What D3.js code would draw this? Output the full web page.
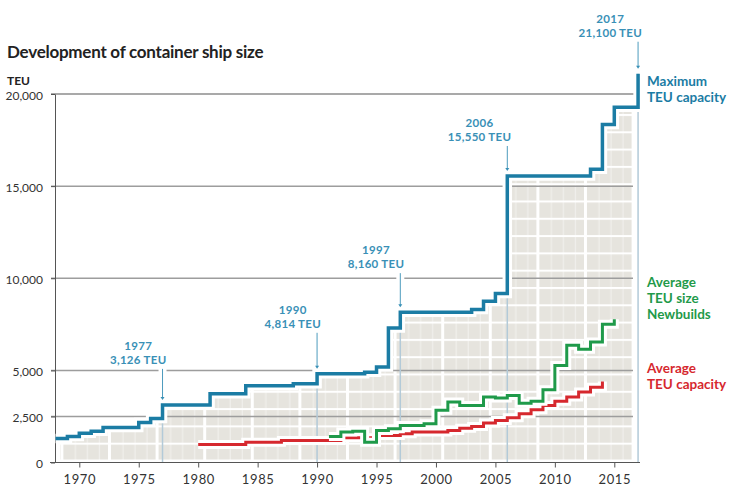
<!DOCTYPE html>
<html><head><meta charset="utf-8">
<script src="https://cdn.jsdelivr.net/npm/d3@7"></script>
<style>
body{margin:0;background:#fff;}
svg{display:block;font-family:Lato,"Open Sans",sans-serif;}
</style>
</head><body>
<svg id="c" width="736" height="497"></svg>
<script>
// ---------- data ----------
const maxYears = [1968,1969,1970,1971,1972,1975,1976,1977,1981,1984,1988,1990,1994,1995,1996,1997,2003,2004,2005,2006,2013,2014,2015,2017];
const maxTEU   = [1300,1410,1590,1700,1900,2170,2390,3126,3730,4170,4280,4814,4900,5180,7300,8160,8300,8750,9170,15550,15920,18350,19280,21100];

const newYears = [1991,1992,1993,1994,1995,1996,1997,1999,2000,2001,2002,2004,2005,2006,2007,2008,2009,2010,2011,2012,2013,2014,2015];
const newTEU   = [1410,1650,1700,1100,1740,1830,2010,2100,2830,3280,3100,3550,3500,3630,3220,3330,3950,5270,6360,6140,6540,7500,7770];

const avgYears = [1980,1984,1987,1992,1995,1997,1998,2001,2002,2003,2004,2005,2006,2007,2008,2009,2010,2011,2012,2013,2014];
const avgTEU   = [980,1100,1200,1340,1470,1560,1650,1740,1860,1960,2140,2280,2430,2650,2860,3100,3320,3550,3820,4080,4400];

const yTicks = [0,2500,5000,10000,15000,20000];
const xTicks = [1970,1975,1980,1985,1990,1995,2000,2005,2010,2015];

const annYears  = [1977,1990,1997,2006,2017];
const annLabels = ["3,126 TEU","4,814 TEU","8,160 TEU","15,550 TEU","21,100 TEU"];

const seriesNames = [["Maximum","TEU capacity"],["Average","TEU size","Newbuilds"],["Average","TEU capacity"]];

// ---------- layout / style ----------
const BLUE="#1b7ca4", ANN="#3990b6", GREEN="#1f9a4a", RED="#d6282e", CELL="#e6e4de";
const annGap = [41,46,44,35,37];   // distance from step to label baseline
const svg = d3.select("#c");
const x = d3.scaleLinear().domain([1970,2015]).range([79.3,614.3]);
const y = d3.scaleLinear().domain([0,20000]).range([462.5,94]);

// title
svg.append("text").attr("x",7).attr("y",58).attr("font-size",17).attr("font-weight",700)
  .attr("fill","#222").attr("letter-spacing",-0.25).text("Development of container ship size");
svg.append("text").attr("x",7).attr("y",84.5).attr("font-size",12).attr("font-weight",700)
  .attr("fill","#222").text("TEU");

// pattern
const defs = svg.append("defs");
const PW = 47.6, PH = 17.3;
const pat = defs.append("pattern").attr("id","cont").attr("patternUnits","userSpaceOnUse")
  .attr("x",108).attr("y",460).attr("width",PW).attr("height",PH);
pat.append("rect").attr("width",PW).attr("height",PH).attr("fill",CELL);
pat.append("rect").attr("x",0).attr("y",0).attr("width",3).attr("height",PH).attr("fill","#fff");
[14.5,26.5,38.5].forEach(o=>pat.append("rect").attr("x",o).attr("y",0).attr("width",1).attr("height",PH).attr("fill","#fff").attr("opacity",0.5));
pat.append("rect").attr("x",0).attr("y",0).attr("width",PW).attr("height",2).attr("fill","#fff");

defs.append("clipPath").attr("id","clipA").append("rect")
  .attr("x",60).attr("y",0).attr("width",634-60).attr("height",497);

const maxPts = maxYears.map((d,i)=>[d,maxTEU[i]]);
const newPts = newYears.map((d,i)=>[d,newTEU[i]]);
const avgPts = avgYears.map((d,i)=>[d,avgTEU[i]]);

const area = d3.area().curve(d3.curveStepAfter).x(d=>x(d[0])).y0(y(0)-3).y1(d=>y(d[1]));
svg.append("path").attr("d",area(maxPts)).attr("fill","url(#cont)").attr("clip-path","url(#clipA)");

// gridlines
yTicks.filter(t=>t>0).forEach(t=>{
  svg.append("line").attr("x1",51).attr("x2",t===20000?638:633).attr("y1",y(t)).attr("y2",y(t))
    .attr("stroke",t===20000?"#555":"#9d9d9d").attr("stroke-width",t===20000?1.1:1.5);
});

// lower annotation lines (light)
annYears.forEach((yr,i)=>{
  const v = maxTEU[maxYears.indexOf(yr)];
  svg.append("line").attr("x1",x(yr)).attr("x2",x(yr)).attr("y1",y(v)).attr("y2",y(0))
    .attr("stroke","#b3cad8").attr("stroke-width",1.5);
});

// axes
const ya = svg.append("g").attr("transform","translate(55,0)")
  .call(d3.axisLeft(y).tickValues(yTicks).tickSize(4).tickSizeOuter(0).tickPadding(8).tickFormat(d3.format(",")));
ya.select(".domain").attr("stroke","#555");
ya.selectAll(".tick line").attr("stroke","#555");
ya.selectAll("text").attr("font-size",12).attr("fill","#333").attr("font-family","Lato,sans-serif").attr("dy","0.42em");

const xa = svg.append("g").attr("transform",`translate(0,${y(0)})`)
  .call(d3.axisBottom(x).tickValues(xTicks).tickSize(5).tickPadding(7).tickFormat(d3.format("d")));
xa.select(".domain").remove();
xa.selectAll(".tick line").attr("stroke","#555");
xa.selectAll("text").attr("font-size",13).attr("fill","#333").attr("font-family","Lato,sans-serif").attr("letter-spacing",0.6);
svg.append("line").attr("x1",50).attr("x2",640).attr("y1",y(0)).attr("y2",y(0)).attr("stroke","#555");

// step lines with halos
const line = d3.line().curve(d3.curveStepAfter).x(d=>x(d[0])).y(d=>y(d[1]));
function draw(pts,color,w){
  svg.append("path").attr("d",line(pts)).attr("fill","none").attr("stroke","#fff").attr("stroke-width",w+6).attr("stroke-linejoin","miter");
  svg.append("path").attr("d",line(pts)).attr("fill","none").attr("stroke",color).attr("stroke-width",w).attr("stroke-linejoin","miter");
}
draw(avgPts,RED,3);
draw(newPts,GREEN,3);
draw(maxPts,BLUE,3.5);

// annotations
annYears.forEach((yr,i)=>{
  const v = maxTEU[maxYears.indexOf(yr)];
  const xs = x(yr), ys = y(v);
  const base = ys - annGap[i];
  const g = svg.append("g");
  const t2 = g.append("text").attr("y",base).attr("font-size",11.5).attr("font-weight",700)
    .attr("fill",ANN).attr("text-anchor","middle").attr("letter-spacing",0.3).text(annLabels[i]);
  const t1 = g.append("text").attr("y",base-14).attr("font-size",11.5).attr("font-weight",700)
    .attr("fill",ANN).attr("text-anchor","middle").attr("letter-spacing",0.3).text(yr);
  const w = t2.node().getComputedTextLength();
  const cx = xs + 4 - w/2;
  t1.attr("x",cx); t2.attr("x",cx);
  const a1 = base + 5, a2 = ys - 5;
  g.append("line").attr("x1",xs).attr("x2",xs).attr("y1",a1).attr("y2",a2).attr("stroke","#fff").attr("stroke-width",8);
  g.append("line").attr("x1",xs).attr("x2",xs).attr("y1",a1).attr("y2",a2-2).attr("stroke",ANN).attr("stroke-width",0.9);
  g.append("path").attr("d",`M${xs-2},${a2-3}L${xs+2},${a2-3}L${xs},${a2}Z`).attr("fill",ANN);
});

// series labels
const labColors=[BLUE,GREEN,RED];
const labTop=[86,287,373];
seriesNames.forEach((lines,i)=>{
  lines.forEach((s,j)=>{
    svg.append("text").attr("x",647).attr("y",labTop[i]+j*16).attr("font-size",13.5).attr("font-weight",700)
      .attr("fill",labColors[i]).text(s);
  });
});
</script>
</body></html>
